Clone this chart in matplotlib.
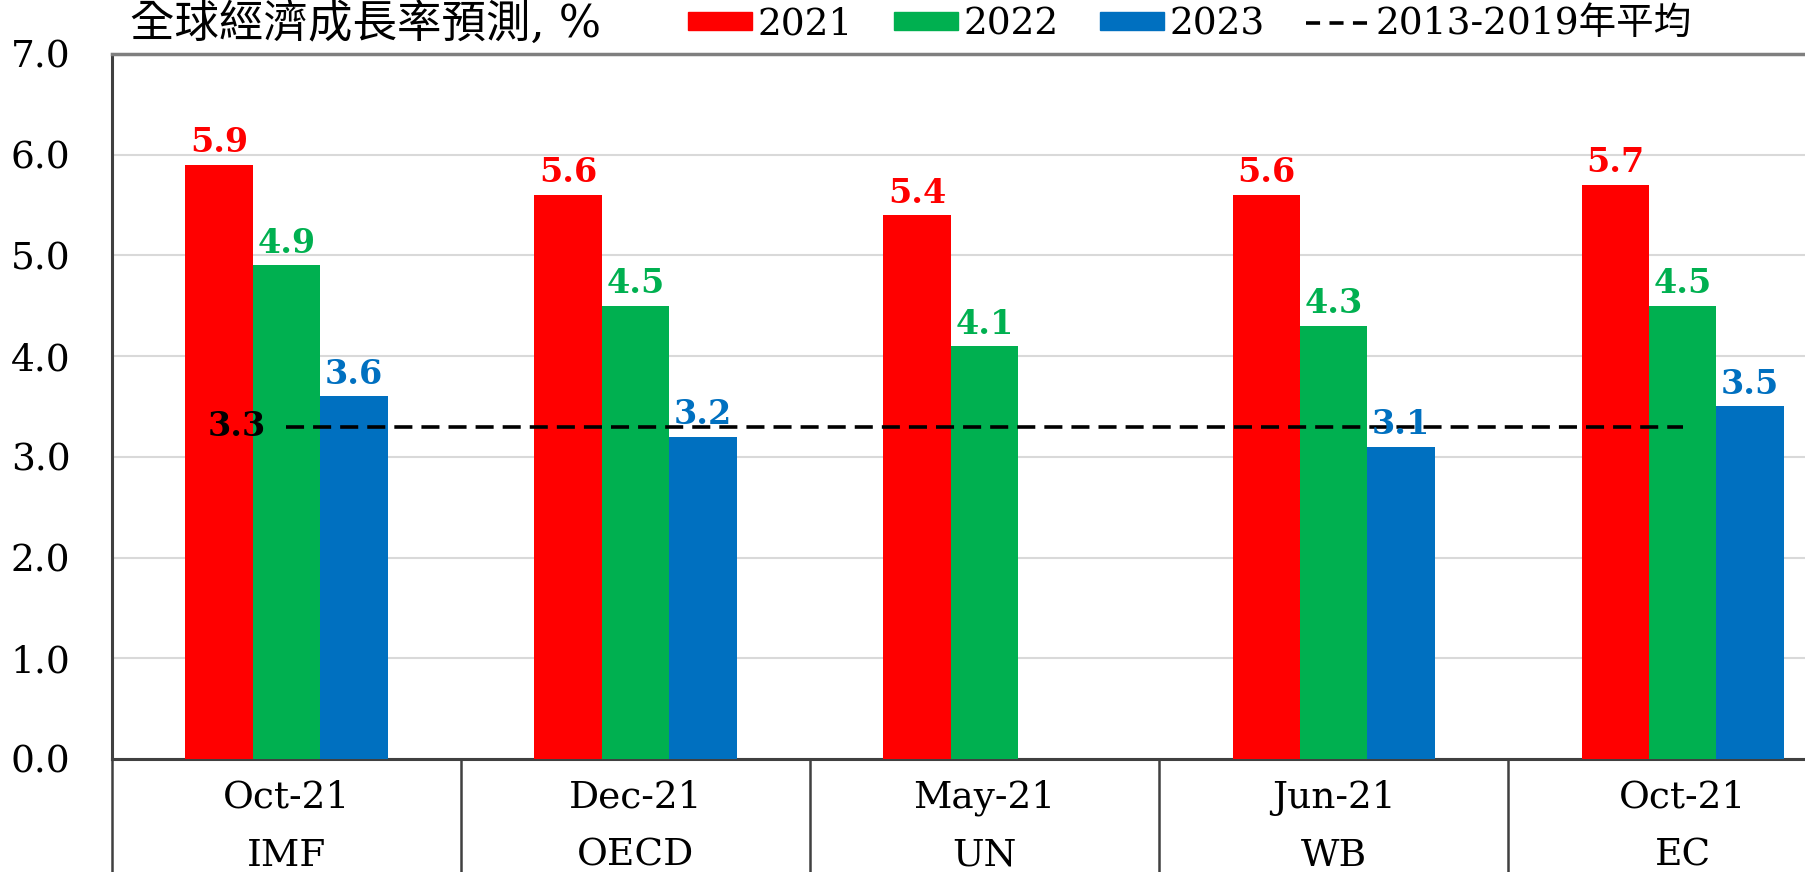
import numpy as np
import matplotlib.pyplot as plt
from matplotlib.patches import Patch
from matplotlib.lines import Line2D

# data
dates = ["Oct-21", "Dec-21", "May-21", "Jun-21", "Oct-21"]
orgs = ["IMF", "OECD", "UN", "WB", "EC"]
g2021 = [5.9, 5.6, 5.4, 5.6, 5.7]
g2022 = [4.9, 4.5, 4.1, 4.3, 4.5]
g2023 = [3.6, 3.2, np.nan, 3.1, 3.5]
avg_1319 = 3.3
yticks = [0.0, 1.0, 2.0, 3.0, 4.0, 5.0, 6.0, 7.0]

RED, GREEN, BLUE = "#FF0000", "#00B050", "#0070C0"
SERIF = ["DejaVu Serif", "Noto Sans CJK TC"]
FS = 27
FS_VAL = 24

plt.rcParams["font.family"] = SERIF

fig = plt.figure(figsize=(18.06, 8.72), dpi=100)
fig.set_facecolor("white")
# plot area runs off the right edge, like the cropped original
ax = fig.add_axes([0.062, 0.1296, 0.9663, 0.8085])

x = np.arange(len(orgs))
w = 0.193

series = [(g2021, RED, "2021"), (g2022, GREEN, "2022"), (g2023, BLUE, "2023")]
for i, (vals, col, lab) in enumerate(series):
    pos = x + (i - 1) * w
    ax.bar(pos, vals, width=w, color=col, zorder=3)
    for px, v in zip(pos, vals):
        if np.isnan(v):
            continue
        ax.annotate(f"{v:.1f}", (px, v), xytext=(0, 9), textcoords="offset points",
                    ha="center", va="baseline", fontsize=FS_VAL, fontweight="bold",
                    color=col, zorder=5)

# 2013-2019 average line
ax.plot([x[0], x[-1]], [avg_1319, avg_1319], color="black", lw=2.6,
        dashes=(5, 2.5), zorder=4)
ax.text(x[0] - 0.06, avg_1319, f"{avg_1319:.1f}", ha="right", va="center",
        fontsize=FS_VAL, fontweight="bold", color="black", zorder=5)

ax.set_xlim(-0.5, len(orgs) - 0.5)
ax.set_ylim(0, 7)
ax.set_yticks(yticks)
ax.set_yticklabels([f"{t:.1f}" for t in yticks], fontsize=FS)
ax.tick_params(axis="y", length=0, pad=30)
ax.set_xticks([])

ax.grid(axis="y", color="#d9d9d9", lw=1.5, zorder=0)
ax.set_axisbelow(True)
ax.spines["right"].set_visible(False)
ax.spines["top"].set_color("#7f7f7f")
ax.spines["top"].set_linewidth(2.5)
ax.spines["left"].set_color("#404040")
ax.spines["left"].set_linewidth(2.2)
ax.spines["bottom"].set_color("#404040")
ax.spines["bottom"].set_linewidth(2.2)

# two-row category axis with separators
tr = ax.get_xaxis_transform()
for xi, d, o in zip(x, dates, orgs):
    ax.text(xi, -0.055, d, transform=tr, ha="center", va="center", fontsize=FS)
    ax.text(xi, -0.137, o, transform=tr, ha="center", va="center", fontsize=FS)
ax.vlines(np.arange(len(orgs) + 1) - 0.5, -0.25, 0, transform=tr,
          colors="#404040", lw=1.8, clip_on=False)

# title and legend
fig.text(0.072, 0.972, "全球經濟成長率預測, %", ha="left", va="center",
         fontsize=32, family=SERIF)
handles = [Patch(color=RED), Patch(color=GREEN), Patch(color=BLUE),
           Line2D([], [], color="black", lw=2.6, dashes=(3.9, 2.6))]
labels = ["2021", "2022", "2023", "2013-2019年平均"]
fig.legend(handles, labels, loc="center left", bbox_to_anchor=(0.381, 0.972),
           ncol=4, frameon=False, fontsize=FS, handlelength=1.7,
           handleheight=0.4, handletextpad=0.15, columnspacing=1.1,
           borderpad=0, borderaxespad=0)

fig.savefig("out.png", dpi=100, facecolor="white")
